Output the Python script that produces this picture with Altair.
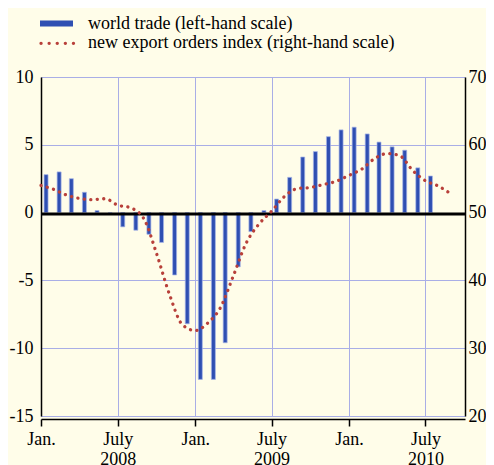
import altair as alt
import pandas as pd

# World trade, % change (left-hand scale), monthly Jan 2008 - Jul 2010
trade_months = pd.date_range("2008-01-01", periods=31, freq="MS") + pd.Timedelta(days=12)
trade_values = [2.8, 3.0, 2.5, 1.5, 0.15, 0.0, -1.05, -1.3, -1.6, -2.2, -4.6, -8.2,
                -12.3, -12.3, -9.6, -4.0, -1.4, 0.15, 1.0, 2.6, 4.1, 4.5, 5.6, 6.1,
                6.3, 5.8, 5.2, 4.85, 4.6, 3.3, 2.7]

# New export orders index (right-hand scale), monthly Jan 2008 - Sep 2010
orders_months = pd.date_range("2008-01-01", periods=33, freq="MS")
orders_values = [54.0, 53.4, 52.6, 52.1, 51.9, 52.05, 51.1, 50.7, 49.1, 44.0, 37.9, 33.5,
                 32.6, 33.8, 35.9, 40.6, 45.4, 48.3, 50.2, 52.4, 53.55, 53.7, 54.15, 54.6,
                 55.5, 56.45, 57.9, 58.7, 58.4, 56.2, 54.7, 53.9, 52.7]

left_ticks = [-15, -10, -5, 0, 5, 10]
right_ticks = [20, 30, 40, 50, 60, 70]
legend_labels = ["world trade (left-hand scale)", "new export orders index (right-hand scale)"]

FONT = "Liberation Serif"
BLUE = "#2f4fb2"
RED = "#b8403a"
GRID = "#a9aee6"
BG = "#fffde9"

trade_df = pd.DataFrame({"date": [d.strftime("%Y-%m-%d") for d in trade_months], "value": trade_values})
orders_df = pd.DataFrame({"date": [d.strftime("%Y-%m-%d") for d in orders_months], "index": orders_values})

xscale = alt.Scale(type="utc", padding=0,
                   domain=[alt.DateTime(year=2008, month=1, date=1, utc=True),
                           alt.DateTime(year=2010, month=10, date=3, utc=True)])
xticks = [alt.DateTime(year=y, month=m, date=1, utc=True) for y in (2008, 2009, 2010) for m in (1, 7)]

xaxis = alt.Axis(values=xticks, title=None, grid=True, gridColor=GRID, gridWidth=1,
                 domainColor="black", domainWidth=1.5, tickColor="black", tickSize=7, tickWidth=1.5,
                 offset=3, labelFont=FONT, labelFontSize=18, labelColor="black",
                 labelLineHeight=20, labelPadding=4, labelFlush=False, labelOverlap=False,
                 labelExpr="utcmonth(datum.value) == 0 ? 'Jan.' : ['July', utcFormat(datum.value, '%Y')]")

left_axis = alt.Axis(values=left_ticks, title=None, grid=True, gridColor=GRID, gridWidth=1,
                     domainColor="black", domainWidth=1.5, ticks=False, labelPadding=8,
                     labelFont=FONT, labelFontSize=18, labelColor="black",
                     labelExpr="'' + datum.value")
right_axis = alt.Axis(values=right_ticks, title=None, grid=False, orient="right",
                      domainColor="black", domainWidth=1.5, ticks=False, labelPadding=3,
                      labelFont=FONT, labelFontSize=18, labelColor="black",
                      labelExpr="'' + datum.value")

yleft = alt.Scale(domain=[-15, 10], nice=False, zero=False)
yright = alt.Scale(domain=[20, 70], nice=False, zero=False)

bars = alt.Chart(trade_df).mark_bar(size=4, color=BLUE, stroke="#a8b6e8", strokeWidth=0.7).encode(
    x=alt.X("date:T", scale=xscale, axis=xaxis),
    y=alt.Y("value:Q", scale=yleft, axis=left_axis),
)

zero = alt.Chart(pd.DataFrame({"v": [0]})).mark_rule(color="black", strokeWidth=3, yOffset=1.5).encode(
    y=alt.Y("v:Q", scale=yleft, axis=left_axis)
)

# legend
leg_bar = alt.Chart(pd.DataFrame({"a": [0]})).mark_rule(color=BLUE, strokeWidth=6).encode(
    x=alt.value(-1), x2=alt.value(32), y=alt.value(-53.5))
leg_dots = alt.Chart(pd.DataFrame({"a": [0]})).mark_rule(
    color=RED, strokeWidth=3.3, strokeDash=[0.1, 8], strokeCap="round").encode(
    x=alt.value(0), x2=alt.value(33), y=alt.value(-33.7))
leg_text1 = alt.Chart(pd.DataFrame({"t": [legend_labels[0]]})).mark_text(
    align="left", baseline="alphabetic", font=FONT, fontSize=18, color="black").encode(
    text="t:N", x=alt.value(47), y=alt.value(-48.5))
leg_text2 = alt.Chart(pd.DataFrame({"t": [legend_labels[1]]})).mark_text(
    align="left", baseline="alphabetic", font=FONT, fontSize=18, color="black").encode(
    text="t:N", x=alt.value(47), y=alt.value(-28.7))

left_layer = alt.layer(bars, zero)

line = alt.Chart(orders_df).mark_line(
    color=RED, strokeWidth=3.3, strokeDash=[0.1, 6.4], strokeCap="round", interpolate="monotone").encode(
    x=alt.X("date:T", scale=xscale, axis=xaxis),
    y=alt.Y("index:Q", scale=yright, axis=right_axis),
)

chart = alt.layer(left_layer, line, leg_bar, leg_dots, leg_text1, leg_text2).resolve_scale(
    y="independent").properties(
    width=424, height=339,
    autosize=alt.AutoSizeParams(type="none"),
    padding={"left": 33, "top": 69, "right": 21, "bottom": 50},
).configure(background=BG).configure_view(strokeWidth=0)

chart.save("out.html", embed_options={"renderer": "svg", "actions": False})
